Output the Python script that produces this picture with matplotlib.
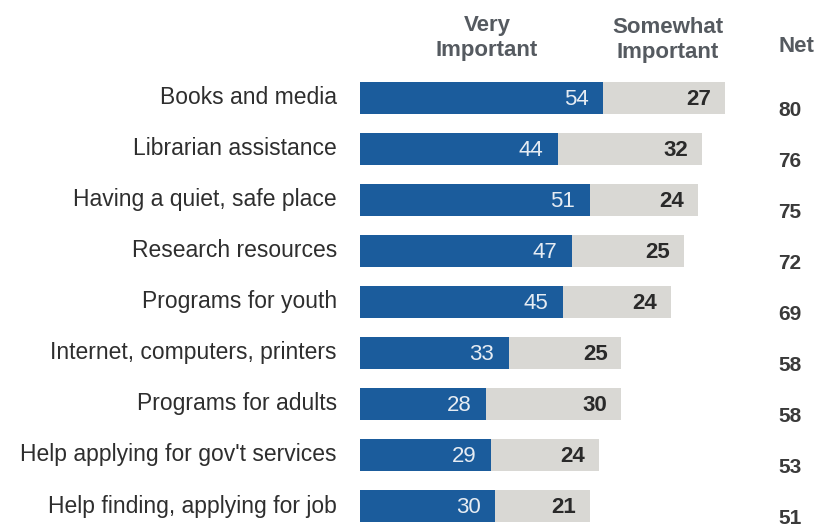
import matplotlib
matplotlib.use("Agg")
import matplotlib.pyplot as plt

# values
items = ["Books and media", "Librarian assistance", "Having a quiet, safe place",
         "Research resources", "Programs for youth", "Internet, computers, printers",
         "Programs for adults", "Help applying for gov't services",
         "Help finding, applying for job"]
very = [54, 44, 51, 47, 45, 33, 28, 29, 30]
somewhat = [27, 32, 24, 25, 24, 25, 30, 24, 21]
net = [80, 76, 75, 72, 69, 58, 58, 53, 51]

plt.rcParams['font.family'] = ['Liberation Sans', 'DejaVu Sans']

blue = '#1b5c9c'
grey = '#d9d8d4'
txt = '#2e2e2e'

fig = plt.figure(figsize=(8.16, 5.31), dpi=100)
# axes spans from the bar baseline to the right edge, about 4.5 px per percent
ppu = 4.5
ax = fig.add_axes([360 / 816, 0, 456 / 816, 1])
ax.set_xlim(0, 456 / ppu)
ax.set_ylim((531 - 98) / 51, -98 / 51)
ax.axis('off')

def px(x):
    # pixel column -> data x
    return (x - 360) / ppu

def py(y):
    # pixel row -> data y
    return (y - 98) / 51

ypos = list(range(len(items)))
ax.barh(ypos, very, height=0.64, color=blue)
ax.barh(ypos, somewhat, left=very, height=0.64, color=grey)

for i in ypos:
    ax.text(px(337), i, items[i], ha='right', va='center', fontsize=16.5, color=txt, clip_on=False)
    ax.text(very[i] - 3.2, i + 0.03, str(very[i]), ha='right', va='center',
            fontsize=16, color='#e6ecf3')
    ax.text(very[i] + somewhat[i] - 3, i + 0.03, str(somewhat[i]), ha='right', va='center',
            fontsize=16, color='#2a2a2a', fontweight='bold')
    # net column sits a little below each bar in the original
    ax.text(px(790), i + 0.24, str(net[i]), ha='center', va='center',
            fontsize=15, color='#3a3a3a', fontweight='bold')

ax.text(px(487), py(38), "Very\nImportant", ha='center', va='center', fontsize=16,
        color='#555a60', fontweight='bold', linespacing=1.3)
ax.text(px(668), py(40), "Somewhat\nImportant", ha='center', va='center', fontsize=16,
        color='#555a60', fontweight='bold', linespacing=1.3)
ax.text(px(796), py(47), "Net", ha='center', va='center', fontsize=16,
        color='#555a60', fontweight='bold')

fig.savefig("out.png", dpi=100, facecolor='white')
